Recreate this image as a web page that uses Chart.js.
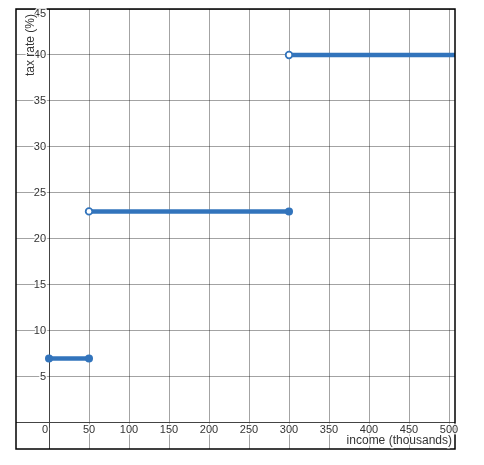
<!DOCTYPE html>
<html>
<head>
<meta charset="utf-8">
<script src="https://cdn.jsdelivr.net/npm/chart.js@4"></script>
<style>
  html, body { margin: 0; padding: 0; background: #fff; }
  #wrap { width: 484px; height: 465px; }
</style>
</head>
<body>
<div id="wrap"><canvas id="myChart"></canvas></div>
<script>
// tax brackets: lower bound, upper bound, rate
const lowerBounds = [0, 50, 300];
const upperBounds = [50, 300, 520];
const rates = [7, 23, 40];
const lowerClosed = [true, false, false];
const upperClosed = [true, true, false];

const xTicks = [0, 50, 100, 150, 200, 250, 300, 350, 400, 450, 500];
const yTicks = [5, 10, 15, 20, 25, 30, 35, 40, 45];

const BLUE = "rgb(50, 116, 188)";

let datasets = lowerBounds.map((lo, i) => {
    let pts = [{x: lo, y: rates[i]}, {x: upperBounds[i], y: rates[i]}];
    let ends = [lowerClosed[i], upperClosed[i]];
    let hidden = [false, i == lowerBounds.length - 1];
    return {
        data: pts,
        showLine: true,
        borderColor: BLUE,
        borderWidth: 4.5,
        pointRadius: ends.map((c, k) => hidden[k] ? 0 : (c ? 4 : 3.3)),
        pointBackgroundColor: ends.map(c => c ? BLUE : "#fff"),
        pointBorderColor: BLUE,
        pointBorderWidth: ends.map(c => c ? 0 : 1.8)
    };
});

let gridColor = ctx => ctx.tick && ctx.tick.value === 0 ? "#444" : "rgba(0,0,0,0.36)";

let haloText = (c, txt, x, y) => {
    c.strokeText(txt, x, y);
    c.fillText(txt, x, y);
};

const labelsPlugin = {
    id: "desmosLabels",
    afterDraw(chart) {
        let c = chart.ctx, a = chart.chartArea;
        let xs = chart.scales.x, ys = chart.scales.y;
        let x0 = xs.getPixelForValue(0), y0 = ys.getPixelForValue(0);
        c.save();
        c.strokeStyle = "#000";
        c.lineWidth = 1.5;
        c.strokeRect(a.left, a.top, a.right - a.left, a.bottom - a.top);
        c.font = "11px 'Liberation Sans', Arial, sans-serif";
        c.fillStyle = "#333";
        c.strokeStyle = "rgba(255,255,255,0.85)";
        c.lineWidth = 3;
        c.lineJoin = "round";
        c.textBaseline = "middle";
        c.textAlign = "center";
        xTicks.forEach(v => {
            let px = xs.getPixelForValue(v);
            if (v === 0) px -= 4;
            haloText(c, String(v), px, y0 + 7);
        });
        c.textAlign = "right";
        yTicks.forEach(v => {
            let py = ys.getPixelForValue(v);
            if (v === 45) py += 5;
            haloText(c, String(v), x0 - 3, py);
        });
        c.font = "12px 'Liberation Sans', Arial, sans-serif";
        c.textAlign = "right";
        haloText(c, "income (thousands)", a.right - 3, y0 + 18);
        c.translate(x0 - 18, a.top + 5);
        c.rotate(-Math.PI / 2);
        c.textAlign = "right";
        haloText(c, "tax rate (%)", 0, 0);
        c.restore();
    }
};

new Chart(document.getElementById("myChart"), {
    type: "scatter",
    data: {datasets: datasets},
    options: {
        responsive: true,
        maintainAspectRatio: false,
        animation: false,
        layout: {padding: {left: 16, top: 9, right: 29, bottom: 16}},
        plugins: {legend: {display: false}, tooltip: {enabled: false}},
        scales: {
            x: {
                type: "linear",
                min: -41.25,
                max: 507.5,
                afterBuildTicks: s => { s.ticks = xTicks.map(v => ({value: v})); },
                ticks: {display: false},
                grid: {color: gridColor, drawTicks: false, lineWidth: 1},
                border: {display: false}
            },
            y: {
                type: "linear",
                min: -2.83,
                max: 45,
                afterBuildTicks: s => { s.ticks = [0].concat(yTicks).map(v => ({value: v})); },
                ticks: {display: false},
                grid: {color: gridColor, drawTicks: false, lineWidth: 1},
                border: {display: false}
            }
        }
    },
    plugins: [labelsPlugin]
});
</script>
</body>
</html>
